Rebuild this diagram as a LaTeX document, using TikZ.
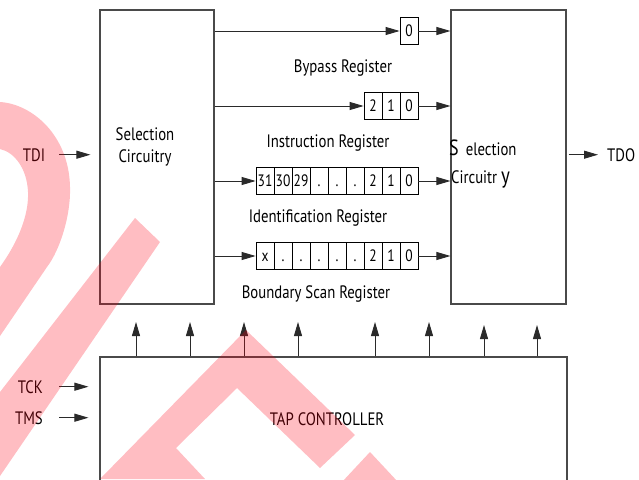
\documentclass[tikz,border=0pt]{standalone}
\usepackage{fontspec}
\setmainfont[FakeStretch=0.82]{PT Sans}
\usetikzlibrary{arrows.meta,positioning}
\definecolor{jtedge}{HTML}{4A4A4A}
\definecolor{jtwire}{HTML}{2A2A2A}
\definecolor{jtstamp}{RGB}{255,0,20}

\begin{document}
\begin{tikzpicture}[x=1pt, y=-1pt,
    blockbox/.style={draw=jtedge, line width=1.1pt, inner sep=0pt},
    cellbox/.style={draw=black, line width=0.8pt, minimum width=18pt, minimum height=27pt, inner sep=0pt,
        text height=11pt, text depth=0pt, font=\fontsize{16.5}{16.5}\selectfont},
    sig/.style={draw=jtwire, line width=0.9pt, -{Triangle[length=14pt,width=8pt]}},
    lbl/.style={inner sep=0pt, font=\fontsize{18}{22}\selectfont},
    stamp/.style={fill=jtstamp, fill opacity=0.26}]
    \useasboundingbox (0,0) rectangle (639,479);
    \clip (0,0) rectangle (639,479);

    % ----------------------------------------------------
    % blocks
    % ----------------------------------------------------
    \node[blockbox, minimum width=114pt, minimum height=294pt] (selL) at (157,157) {};
    \node[blockbox, minimum width=115pt, minimum height=294pt] (selR) at (508.5,157) {};
    \node[blockbox, minimum width=467pt, minimum height=150pt] (tap) at (333.5,432) {};

    \node[lbl, anchor=base] (selLa) at (145,140) {Selection};
    \node[lbl, anchor=base] (selLb) at (145,162) {Circuitry};
    \node[lbl, anchor=base west] (selRa) at (449,155) {{\fontsize{22}{22}\selectfont S}\hspace{7pt}election};
    \node[lbl, anchor=base west] (selRb) at (451,183) {Circuitr\hspace{4pt}{\fontsize{23}{23}\selectfont y}};
    \node[lbl, anchor=base] (tapTxt) at (327,425) {TAP CONTROLLER};

    % ----------------------------------------------------
    % registers
    % ----------------------------------------------------
    \foreach \reg/\yy/\xs/\nb/\bits in {bp/31/400/1/{0}, ir/106/364/3/{2,1,0},
        id/181/256/9/{31,30,29,.,.,.,2,1,0}, bs/256/256/9/{x,.,.,.,.,.,2,1,0}}{
        \foreach \b [count=\i] in \bits
            \node[cellbox] (\reg-\i) at (\xs+\i*18-9,\yy) {\b};
        \draw[sig] (\reg-1.west -| selL.east) -- (\reg-1.west);
        \draw[sig] (\reg-\nb.east) -- (\reg-\nb.east -| selR.west);
    }

    \node[lbl, anchor=base] (bpName) at (343,72) {Bypass Register};
    \node[lbl, anchor=base] (irName) at (328,147) {Instruction Register};
    \node[lbl, anchor=base] (idName) at (318,222) {Identification Register};
    \node[lbl, anchor=base] (bsName) at (316,298) {Boundary Scan Register};

    % ----------------------------------------------------
    % control lines
    % ----------------------------------------------------
    \foreach \xx/\tip [count=\k] in {136/322,190/322,244/322,298/322,375/322,429/322,484/325,537/325}{
        \coordinate (up\k) at (\xx,\tip);
        \draw[sig] (tap.north -| up\k) -- (up\k);
    }

    % ----------------------------------------------------
    % pins
    % ----------------------------------------------------
    \node[lbl, anchor=base] (tdi) at (34,161) {TDI};
    \draw[sig] ([xshift=14pt]tdi.east) -- ([xshift=-9pt]tdi.east -| selL.west);
    \node[lbl, anchor=base west] (tdo) at (607,161) {TDO};
    \draw[sig] ([xshift=2pt]tdo.west -| selR.east) -- ([xshift=-9pt]tdo.west);
    \node[lbl, anchor=base east] (tck) at (43,393) {TCK};
    \draw[sig] ([xshift=16pt]tck.east) -- ([xshift=-11pt]tck.east -| tap.west);
    \node[lbl, anchor=base east] (tms) at (43,424) {TMS};
    \draw[sig] ([xshift=16pt]tms.east) -- ([xshift=-11pt]tms.east -| tap.west);

    % ----------------------------------------------------
    % stamp
    % ----------------------------------------------------
    \fill[stamp] (0,102) .. controls (32,104) and (69,135) .. (70,187)
        .. controls (71,215) and (60,250) .. (47,267) -- (0,336) -- (0,267)
        .. controls (18,242) and (29,215) .. (28,192)
        .. controls (27,168) and (14,152) .. (0,149) -- cycle;
    \fill[stamp] (135,218) -- (160,242) -- (0,476) -- (0,392) -- cycle;
    \fill[stamp] (100,479) -- (246,330) -- (355,435) -- (320,468) -- (237,388)
        -- (176,448) -- (205,479) -- cycle;
    \fill[stamp] (342,482) -- (370,452) -- (398,482) -- cycle;
\end{tikzpicture}
\end{document}
